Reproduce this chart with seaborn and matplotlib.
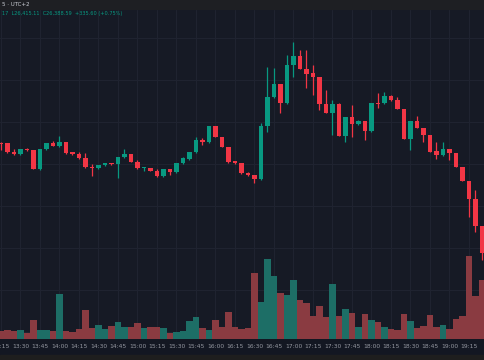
import numpy as np
import pandas as pd
import matplotlib
matplotlib.use("Agg")
import matplotlib.pyplot as plt
from matplotlib.patches import Rectangle
import seaborn as sns

# ---------------- data (5-minute candles, 13:15 .. 19:25) ----------------
opens = [26414, 26414, 26396, 26392, 26402, 26400, 26362, 26402, 26414, 26408,
         26416, 26396, 26392, 26384, 26366, 26364, 26370, 26374, 26372, 26386,
         26392, 26376, 26364, 26364, 26358, 26348, 26362, 26356, 26374, 26382,
         26396, 26420, 26416, 26448, 26426, 26406, 26378, 26374, 26354, 26350,
         26342, 26448, 26506, 26532, 26494, 26570, 26588, 26562, 26554, 26546,
         26492, 26474, 26492, 26428, 26466, 26452, 26458, 26438, 26494, 26494,
         26508, 26500, 26482, 26422, 26458, 26444, 26430, 26398, 26390, 26402,
         26394, 26366, 26338, 26302, 26248]
highs = [26416, 26414, 26402, 26402, 26404, 26401, 26402, 26414, 26418, 26428,
         26417, 26397, 26396, 26394, 26372, 26371, 26375, 26375, 26387, 26402,
         26393, 26380, 26366, 26365, 26362, 26362, 26363, 26374, 26386, 26397,
         26426, 26424, 26449, 26449, 26427, 26407, 26379, 26375, 26356, 26351,
         26454, 26566, 26564, 26533, 26590, 26616, 26600, 26600, 26570, 26547,
         26520, 26500, 26494, 26467, 26490, 26460, 26459, 26495, 26514, 26516,
         26510, 26506, 26483, 26458, 26468, 26445, 26431, 26416, 26416, 26403,
         26395, 26367, 26339, 26320, 26249]
lows = [26400, 26394, 26390, 26390, 26398, 26362, 26360, 26401, 26408, 26406,
        26392, 26390, 26382, 26365, 26348, 26363, 26369, 26371, 26344, 26384,
        26376, 26362, 26358, 26358, 26346, 26347, 26350, 26355, 26373, 26381,
        26395, 26410, 26415, 26426, 26406, 26375, 26373, 26353, 26348, 26334,
        26341, 26436, 26505, 26474, 26493, 26546, 26562, 26524, 26510, 26480,
        26474, 26430, 26428, 26416, 26426, 26450, 26420, 26437, 26484, 26493,
        26498, 26482, 26422, 26400, 26444, 26416, 26396, 26382, 26389, 26380,
        26366, 26338, 26266, 26236, 26180]
closes = [26412, 26396, 26392, 26402, 26401, 26362, 26402, 26414, 26408, 26416,
          26394, 26392, 26384, 26366, 26364, 26370, 26374, 26372, 26386, 26392,
          26376, 26364, 26365, 26358, 26348, 26362, 26356, 26374, 26384, 26396,
          26420, 26416, 26448, 26426, 26406, 26376, 26374, 26354, 26350, 26342,
          26448, 26506, 26532, 26494, 26570, 26588, 26562, 26552, 26546, 26492,
          26474, 26492, 26428, 26466, 26452, 26458, 26438, 26494, 26493, 26508,
          26500, 26482, 26422, 26458, 26444, 26430, 26396, 26390, 26402, 26394,
          26366, 26338, 26302, 26248, 26194]
volumes = [25, 28, 25, 27, 18, 57, 28, 26, 23, 135,
           25, 20, 30, 88, 32, 42, 30, 40, 52, 37,
           36, 47, 33, 37, 36, 32, 18, 22, 23, 53,
           66, 34, 28, 57, 36, 82, 37, 31, 33, 198,
           111, 240, 188, 138, 133, 178, 118, 108, 70, 100,
           66, 166, 70, 91, 78, 35, 74, 58, 50, 36,
           31, 28, 74, 55, 34, 40, 73, 36, 43, 30,
           60, 68, 250, 130, 178]
tick_labels = ["13:15", "13:30", "13:45", "14:00", "14:15", "14:30", "14:45",
               "15:00", "15:15", "15:30", "15:45", "16:00", "16:15", "16:30",
               "16:45", "17:00", "17:15", "17:30", "17:45", "18:00", "18:15",
               "18:30", "18:45", "19:00", "19:15"]
header_line1 = "5 · UTC+2"
header_line2 = "17  L26,415.11  C26,388.59  +335.60 (+0.75%)"

# ---------------- style ----------------
BG = "#161a25"
UP = "#089981"
DOWN = "#f23645"
UP_VOL = "#1d6e66"
DOWN_VOL = "#8a3b41"
GRID = "#1f2330"
TXT = "#9598a1"

sns.set_theme(style="dark", rc={"axes.facecolor": BG, "figure.facecolor": "#131722"})
plt.rcParams["font.family"] = ["DejaVu Sans"]

n = len(opens)
idx = np.arange(n)
o = np.array(opens, float)
c = np.array(closes, float)
h = np.array(highs, float)
l = np.array(lows, float)
up = c >= o

df = pd.DataFrame({"i": idx, "vol": volumes, "dir": np.where(up, "up", "down")})

fig = plt.figure(figsize=(4.85, 3.6), dpi=100)
W, H = 485, 360
top_px, bot_px = 10, 339
rect = [0, (H - bot_px) / H, 1, (bot_px - top_px) / H]

xlim = (-1 / 6.5, (W - 1) / 6.5)

# volume axis (behind)
axv = fig.add_axes(rect)
axv.set_facecolor(BG)
sns.barplot(data=df, x="i", y="vol", hue="dir", palette={"up": UP_VOL, "down": DOWN_VOL},
            dodge=False, native_scale=True, width=0.94, saturation=1, errorbar=None,
            legend=False, linewidth=0, ax=axv)
axv.set_xlim(*xlim)
axv.set_ylim(0, 3 * (bot_px - top_px))
axv.set_xticks(idx[::3])
axv.set_xticklabels([])
axv.set_yticks(np.arange(20, 987, 126))
axv.set_yticklabels([])
axv.grid(True, color=GRID, lw=0.8)
axv.set_axisbelow(True)
axv.tick_params(length=0)
axv.set_xlabel("")
axv.set_ylabel("")
for s in axv.spines.values():
    s.set_visible(False)

# price axis (front)
ax = fig.add_axes(rect)
ax.patch.set_alpha(0)
colors = np.where(up, UP, DOWN)
ax.vlines(idx, l, h, colors=colors, lw=0.9)
body = np.maximum(np.abs(c - o), 1.5)
ax.bar(idx, body, bottom=np.minimum(o, c), width=0.72, color=colors, linewidth=0)
ax.set_xlim(*xlim)
ax.set_ylim(26700 - 2 * bot_px, 26700 - 2 * top_px)
ax.set_xticks(idx[::3])
ax.set_xticklabels(tick_labels, fontsize=4.3, color=TXT)
ax.tick_params(axis="x", length=0, pad=3.5)
ax.set_yticks([])
ax.grid(False)
for s in ax.spines.values():
    s.set_visible(False)

# header band and bottom band
fig.add_artist(Rectangle((0, 1 - top_px / H), 1, top_px / H, transform=fig.transFigure,
                         color="#1e1f23", zorder=0))
fig.add_artist(Rectangle((0, 0), 1, 5 / H, transform=fig.transFigure,
                         color="#1e1e1e", zorder=0))

fig.text(2 / W, 1 - 4 / H, header_line1, fontsize=4, color="#c9ccd3", va="center", ha="left")
fig.text(2 / W, 1 - 14 / H, header_line2, fontsize=3.6, color=UP, va="center", ha="left")

fig.savefig("out.png", dpi=100, facecolor=fig.get_facecolor())
